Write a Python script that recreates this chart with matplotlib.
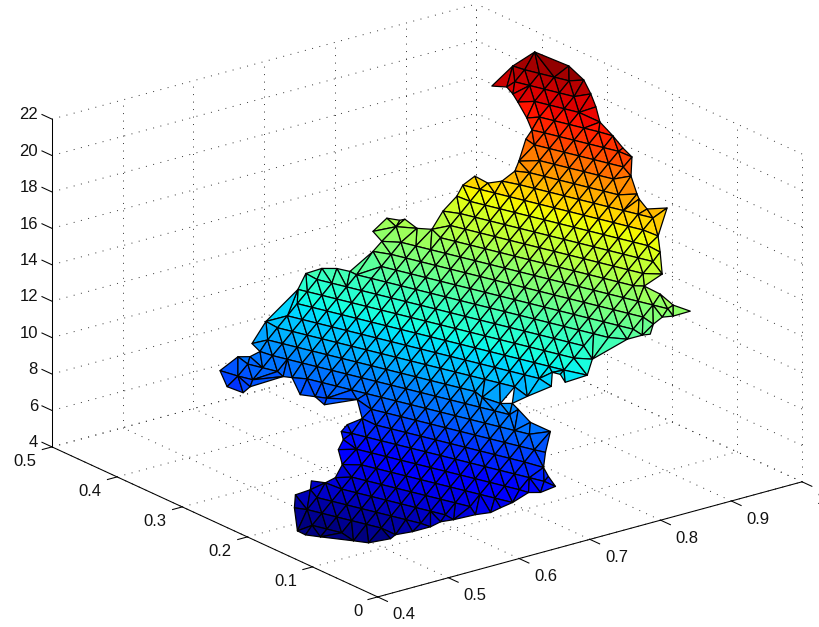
"""Triangulated surface in a MATLAB-style 3D box."""

import numpy as np
import matplotlib
matplotlib.use("Agg")
import matplotlib.pyplot as plt
from matplotlib.path import Path
from matplotlib.tri import Triangulation
from mpl_toolkits.mplot3d import proj3d

plt.rcParams["font.family"] = ["Liberation Sans", "DejaVu Sans"]

x_ticks = [0.4, 0.5, 0.6, 0.7, 0.8, 0.9, 1.0]
y_ticks = [0, 0.1, 0.2, 0.3, 0.4, 0.5]
z_ticks = [4, 6, 8, 10, 12, 14, 16, 18, 20, 22]

# boundary vertices of the surface
outline_x = [
    0.9944, 0.9977, 1.0057, 0.9995, 0.9892, 0.9761, 0.9701, 0.9682, 0.9685, 0.9586,
    0.9528, 0.9513, 0.9504, 0.9617, 0.9421, 0.9336, 0.9145, 0.8918, 0.8947, 0.8928,
    0.8981, 0.8826, 0.8746, 0.8629, 0.8525, 0.8467, 0.8339, 0.7952, 0.7777, 0.7571,
    0.7613, 0.7581, 0.7444, 0.7198, 0.6900, 0.6960, 0.7037, 0.7019, 0.6976, 0.7020,
    0.6794, 0.6642, 0.6590, 0.6542, 0.6390, 0.6310, 0.6063, 0.5910, 0.5773, 0.5637,
    0.5411, 0.5290, 0.5171, 0.5015, 0.4882, 0.4816, 0.4612, 0.4517, 0.4299, 0.4204,
    0.4210, 0.4484, 0.4603, 0.4751, 0.4875, 0.4952, 0.5089, 0.5309, 0.5474, 0.5619,
    0.5680, 0.5784, 0.5935, 0.6080, 0.5782, 0.5838, 0.5761, 0.5867, 0.5819, 0.5514,
    0.5414, 0.5367, 0.5470, 0.5715, 0.5792, 0.5903, 0.5926, 0.6220, 0.6718, 0.6904,
    0.7046, 0.7139, 0.7195, 0.7508, 0.7655, 0.7691, 0.7919, 0.7966, 0.8007, 0.8001,
    0.8087, 0.8325, 0.8545, 0.8635, 0.8747, 0.8781, 0.8867, 0.8990, 0.9063, 0.9209,
    0.9286, 0.9319, 0.9420, 0.9471, 0.9504, 0.9414, 0.9766,
]
outline_y = [
    0.4044, 0.3557, 0.3413, 0.3238, 0.3048, 0.2844, 0.2579, 0.2404, 0.2270, 0.2177,
    0.2022, 0.1974, 0.1841, 0.1657, 0.1582, 0.1458, 0.1219, 0.1249, 0.1034, 0.0814,
    0.0610, 0.0703, 0.0785, 0.0795, 0.0729, 0.0788, 0.0880, 0.0996, 0.0884, 0.0998,
    0.1120, 0.1208, 0.1075, 0.1175, 0.1543, 0.1331, 0.1231, 0.1120, 0.0887, 0.0628,
    0.0458, 0.0323, 0.0191, 0.0031, 0.0096, 0.0193, 0.0170, 0.0186, 0.0192, 0.0275,
    0.0367, 0.0435, 0.0460, 0.0567, 0.0684, 0.0689, 0.0805, 0.0932, 0.1203, 0.1330,
    0.1460, 0.1804, 0.1918, 0.1849, 0.1968, 0.1836, 0.1833, 0.1964, 0.2205, 0.2286,
    0.2384, 0.2404, 0.2339, 0.2573, 0.2753, 0.2956, 0.3102, 0.3341, 0.3427, 0.3603,
    0.3601, 0.3796, 0.4017, 0.4007, 0.3906, 0.3873, 0.4021, 0.4126, 0.4176, 0.4256,
    0.4164, 0.4035, 0.3895, 0.3882, 0.3905, 0.4081, 0.4115, 0.3966, 0.3934, 0.3742,
    0.3606, 0.3695, 0.3720, 0.3726, 0.3663, 0.3500, 0.3378, 0.3312, 0.3330, 0.3382,
    0.3373, 0.3486, 0.3734, 0.3866, 0.3995, 0.4127, 0.4188,
]
outline_z = [
    21.00, 21.00, 20.38, 19.97, 19.68, 19.32, 19.06, 18.70, 18.43, 17.64,
    16.97, 16.79, 16.47, 16.71, 15.50, 14.91, 14.30, 13.83, 13.71, 13.49,
    13.44, 13.18, 13.07, 12.79, 12.46, 12.37, 12.13, 11.25, 10.74, 10.38,
    10.57, 10.57, 10.16, 9.71, 9.36, 9.31, 9.40, 9.27, 8.99, 8.87,
    8.24, 7.79, 7.57, 7.34, 7.06, 6.98, 6.73, 6.58, 6.45, 6.34,
    6.15, 6.05, 5.86, 5.58, 5.36, 5.20, 5.00, 5.00, 5.00, 5.00,
    5.00, 5.41, 5.81, 6.05, 6.21, 6.24, 6.38, 6.65, 6.90, 7.16,
    7.38, 7.62, 7.90, 8.41, 8.14, 8.19, 8.14, 8.57, 8.54, 8.01,
    7.79, 7.85, 8.26, 8.78, 8.87, 9.09, 9.26, 9.99, 11.14, 11.69,
    11.97, 12.08, 12.09, 12.88, 13.24, 13.46, 13.89, 13.97, 14.04, 13.86,
    13.94, 14.54, 15.09, 15.59, 16.07, 15.92, 16.14, 16.67, 17.11, 18.08,
    18.51, 18.95, 19.31, 19.48, 19.62, 19.55, 20.18,
]

# mesh rows: one anchor node and one height per row (rows follow the colour bands)
row_x = [
    0.4685, 0.4851, 0.5017, 0.5230, 0.5459, 0.5687, 0.5916, 0.6093, 0.6268, 0.6443,
    0.6618, 0.6793, 0.6969, 0.7144, 0.7319, 0.7494, 0.7666, 0.7830, 0.7994, 0.8158,
    0.8322, 0.8495, 0.8670, 0.8845, 0.9020, 0.9195, 0.9311, 0.9428, 0.9545, 0.9659,
    0.9772, 0.9884, 1.0013, 1.0206, 1.0399, 1.0593, 1.0620,
]
row_y = [
    0.0841, 0.0870, 0.0899, 0.0979, 0.1075, 0.1172, 0.1268, 0.1309, 0.1347, 0.1386,
    0.1424, 0.1463, 0.1501, 0.1540, 0.1578, 0.1617, 0.1651, 0.1678, 0.1704, 0.1730,
    0.1756, 0.1793, 0.1831, 0.1870, 0.1908, 0.1946, 0.1921, 0.1895, 0.1870, 0.1842,
    0.1813, 0.1783, 0.1771, 0.1829, 0.1887, 0.1946, 0.1823,
]
row_z = [
    5.01, 5.45, 5.89, 6.20, 6.46, 6.73, 6.99, 7.40, 7.81, 8.23,
    8.64, 9.06, 9.47, 9.89, 10.30, 10.72, 11.14, 11.59, 12.04, 12.48,
    12.93, 13.35, 13.76, 14.18, 14.59, 15.01, 15.59, 16.17, 16.75, 17.34,
    17.93, 18.52, 19.07, 19.43, 19.80, 20.16, 21.00,
]
mesh_dx, mesh_dy = 0.006058, -0.01617  # spacing of nodes along a row


def to_pixels(ax, xs, ys, zs):
    sx, sy, _ = proj3d.proj_transform(np.asarray(xs), np.asarray(ys), np.asarray(zs), ax.get_proj())
    return ax.transData.transform(np.c_[sx, sy])


def outline_distance(points, outline):
    start, end = outline, np.roll(outline, -1, axis=0)
    seg = end - start
    dist = []
    for p in points:
        t = np.clip(((p - start) * seg).sum(1) / (seg * seg).sum(1), 0, 1)
        dist.append(np.hypot(*(start + t[:, None] * seg - p).T).min())
    return np.array(dist)


def build_mesh(ax):
    """Join the outline with the row nodes that lie well inside it."""
    steps = np.arange(-45, 46)
    node_x = np.concatenate([x0 + steps * mesh_dx for x0 in row_x])
    node_y = np.concatenate([y0 + steps * mesh_dy for y0 in row_y])
    node_z = np.repeat(row_z, len(steps))

    outline_px = to_pixels(ax, outline_x, outline_y, outline_z)
    node_px = to_pixels(ax, node_x, node_y, node_z)
    inside = Path(outline_px).contains_points(node_px)
    node_x, node_y, node_z, node_px = node_x[inside], node_y[inside], node_z[inside], node_px[inside]
    far = outline_distance(node_px, outline_px) > 5.5

    xs = np.r_[outline_x, node_x[far]]
    ys = np.r_[outline_y, node_y[far]]
    zs = np.r_[outline_z, node_z[far]]
    px = np.vstack([outline_px, node_px[far]])
    tri = Triangulation(px[:, 0], px[:, 1])
    keep = Path(outline_px).contains_points(px[tri.triangles].mean(axis=1))
    return xs, ys, zs, tri.triangles[keep]


fig = plt.figure(figsize=(8.2, 6.27), dpi=100)
side = 809.4
ax = fig.add_axes([11.4 / 820, -89.1 / 627, side / 820, side / 627], projection="3d")
ax.set_proj_type("ortho")
ax.view_init(elev=20.7, azim=-127.5)
ax.set_box_aspect((1, 1, 0.655))
ax.set_xlim(0.4, 1, view_margin=0)
ax.set_ylim(0, 0.5, view_margin=0)
ax.set_zlim(4, 22, view_margin=0)
ax.set_axis_off()
ax.computed_zorder = False

xs, ys, zs, triangles = build_mesh(ax)
ax.plot_trisurf(xs, ys, zs, triangles=triangles, cmap=plt.get_cmap("jet", 64), vmin=5, vmax=21,
                edgecolor="k", linewidth=0.9, shade=False, zorder=5)

grid = dict(color="#333333", lw=0.7, ls=(0, (1, 6.7)), zorder=1)
for t in x_ticks:
    ax.plot([t, t], [0, 0.5], [4, 4], **grid)
    ax.plot([t, t], [0.5, 0.5], [4, 22], **grid)
for t in y_ticks:
    ax.plot([0.4, 1], [t, t], [4, 4], **grid)
    ax.plot([1, 1], [t, t], [4, 22], **grid)
for t in z_ticks:
    ax.plot([0.4, 1], [0.5, 0.5], [t, t], **grid)
    ax.plot([1, 1], [0, 0.5], [t, t], **grid)

solid = dict(color="k", lw=0.75, zorder=3)
ax.plot([0.4, 0.4], [0.5, 0.5], [4, 22], **solid)
ax.plot([0.4, 0.4], [0, 0.5], [4, 4], **solid)
ax.plot([0.4, 1], [0, 0], [4, 4], **solid)


def tick_label(px, py, pz, value, ha):
    sx, sy, _ = proj3d.proj_transform(px, py, pz, ax.get_proj())
    ax.text2D(sx, sy, "%g" % value, transform=ax.transData, ha=ha, va="center",
              fontsize=12, color="#111111")


for t in x_ticks:
    ax.plot([t, t], [0, -0.015], [4, 4], **solid)
    tick_label(t - 0.0214, -0.0464, 4, t, "left")
for t in y_ticks:
    ax.plot([0.4, 0.3863], [t, t], [4, 4], **solid)
    tick_label(0.3571, t - 0.0228, 4, t, "right")
for t in z_ticks:
    ax.plot([0.4, 0.4], [0.5, 0.5154], [t, t], **solid)
    tick_label(0.4, 0.5215, t - 0.12, t, "right")

fig.savefig("out.png", dpi=100)
